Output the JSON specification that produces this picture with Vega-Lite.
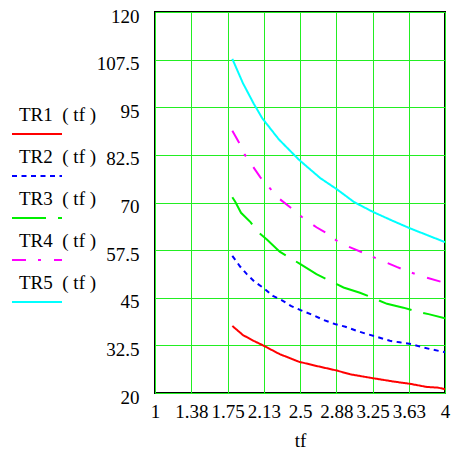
{
  "$schema": "https://vega.github.io/schema/vega-lite/v6.json",
  "width": 290,
  "height": 381,
  "autosize": {"type": "none"},
  "padding": {"left": 155, "top": 12, "right": 9, "bottom": 58},
  "view": {"stroke": "black", "strokeWidth": 2},
  "data": {
    "values": [
      {"s": "TR1", "tf": 1.8, "v": 37.6},
      {"s": "TR1", "tf": 1.91, "v": 35.2},
      {"s": "TR1", "tf": 2.02, "v": 33.7},
      {"s": "TR1", "tf": 2.11, "v": 32.6},
      {"s": "TR1", "tf": 2.29, "v": 30.2},
      {"s": "TR1", "tf": 2.49, "v": 28.2},
      {"s": "TR1", "tf": 2.67, "v": 27.1},
      {"s": "TR1", "tf": 2.88, "v": 25.9},
      {"s": "TR1", "tf": 3.02, "v": 24.9},
      {"s": "TR1", "tf": 3.25, "v": 23.9},
      {"s": "TR1", "tf": 3.47, "v": 23.0},
      {"s": "TR1", "tf": 3.64, "v": 22.4},
      {"s": "TR1", "tf": 3.81, "v": 21.6},
      {"s": "TR1", "tf": 3.93, "v": 21.4},
      {"s": "TR1", "tf": 4.0, "v": 21.0},
      {"s": "TR2", "tf": 1.8, "v": 56.0},
      {"s": "TR2", "tf": 1.88, "v": 53.2},
      {"s": "TR2", "tf": 1.95, "v": 51.2},
      {"s": "TR2", "tf": 2.03, "v": 49.2},
      {"s": "TR2", "tf": 2.12, "v": 47.6},
      {"s": "TR2", "tf": 2.22, "v": 45.5},
      {"s": "TR2", "tf": 2.31, "v": 44.4},
      {"s": "TR2", "tf": 2.41, "v": 42.8},
      {"s": "TR2", "tf": 2.5, "v": 41.8},
      {"s": "TR2", "tf": 2.64, "v": 40.4},
      {"s": "TR2", "tf": 2.74, "v": 39.2},
      {"s": "TR2", "tf": 2.86, "v": 38.1},
      {"s": "TR2", "tf": 2.97, "v": 37.4},
      {"s": "TR2", "tf": 3.09, "v": 36.3},
      {"s": "TR2", "tf": 3.19, "v": 35.5},
      {"s": "TR2", "tf": 3.29, "v": 34.8},
      {"s": "TR2", "tf": 3.43, "v": 33.7},
      {"s": "TR2", "tf": 3.53, "v": 33.3},
      {"s": "TR2", "tf": 3.66, "v": 32.8},
      {"s": "TR2", "tf": 3.78, "v": 31.9},
      {"s": "TR2", "tf": 4.0, "v": 30.7},
      {"s": "TR3", "tf": 1.8, "v": 71.4},
      {"s": "TR3", "tf": 1.83, "v": 70.2},
      {"s": "TR3", "tf": 1.89, "v": 67.3},
      {"s": "TR3", "tf": 1.99, "v": 64.8},
      {"s": "TR3", "tf": 2.05, "v": 62.6},
      {"s": "TR3", "tf": 2.16, "v": 60.2},
      {"s": "TR3", "tf": 2.29, "v": 57.1},
      {"s": "TR3", "tf": 2.4, "v": 55.4},
      {"s": "TR3", "tf": 2.5, "v": 53.9},
      {"s": "TR3", "tf": 2.67, "v": 51.2},
      {"s": "TR3", "tf": 2.79, "v": 49.7},
      {"s": "TR3", "tf": 2.95, "v": 47.7},
      {"s": "TR3", "tf": 3.12, "v": 46.3},
      {"s": "TR3", "tf": 3.25, "v": 45.0},
      {"s": "TR3", "tf": 3.4, "v": 43.4},
      {"s": "TR3", "tf": 3.57, "v": 42.4},
      {"s": "TR3", "tf": 3.69, "v": 41.5},
      {"s": "TR3", "tf": 3.83, "v": 40.7},
      {"s": "TR3", "tf": 4.0, "v": 39.6},
      {"s": "TR4", "tf": 1.8, "v": 88.8},
      {"s": "TR4", "tf": 1.87, "v": 85.7},
      {"s": "TR4", "tf": 1.93, "v": 82.5},
      {"s": "TR4", "tf": 2.09, "v": 76.6},
      {"s": "TR4", "tf": 2.19, "v": 73.7},
      {"s": "TR4", "tf": 2.29, "v": 70.9},
      {"s": "TR4", "tf": 2.41, "v": 68.5},
      {"s": "TR4", "tf": 2.52, "v": 66.2},
      {"s": "TR4", "tf": 2.67, "v": 63.5},
      {"s": "TR4", "tf": 2.78, "v": 61.9},
      {"s": "TR4", "tf": 2.91, "v": 59.4},
      {"s": "TR4", "tf": 3.07, "v": 57.7},
      {"s": "TR4", "tf": 3.21, "v": 56.2},
      {"s": "TR4", "tf": 3.35, "v": 54.7},
      {"s": "TR4", "tf": 3.5, "v": 53.1},
      {"s": "TR4", "tf": 3.63, "v": 51.8},
      {"s": "TR4", "tf": 3.78, "v": 50.5},
      {"s": "TR4", "tf": 4.0, "v": 48.9},
      {"s": "TR5", "tf": 1.8, "v": 107.7},
      {"s": "TR5", "tf": 1.91, "v": 101.3},
      {"s": "TR5", "tf": 2.02, "v": 96.0},
      {"s": "TR5", "tf": 2.11, "v": 92.1},
      {"s": "TR5", "tf": 2.28, "v": 86.6},
      {"s": "TR5", "tf": 2.49, "v": 81.2},
      {"s": "TR5", "tf": 2.71, "v": 76.4},
      {"s": "TR5", "tf": 2.88, "v": 73.5},
      {"s": "TR5", "tf": 3.06, "v": 70.1},
      {"s": "TR5", "tf": 3.25, "v": 67.6},
      {"s": "TR5", "tf": 3.44, "v": 65.4},
      {"s": "TR5", "tf": 3.64, "v": 63.2},
      {"s": "TR5", "tf": 3.81, "v": 61.5},
      {"s": "TR5", "tf": 4.0, "v": 59.6}
    ]
  },
  "mark": {"type": "line", "strokeWidth": 2, "clip": true},
  "encoding": {
    "x": {
      "field": "tf",
      "type": "quantitative",
      "scale": {"domain": [1, 4], "nice": false, "zero": false},
      "axis": {
        "title": "tf",
        "values": [1, 1.375, 1.75, 2.125, 2.5, 2.875, 3.25, 3.625, 4],
        "format": ".2~f",
        "domain": false,
        "ticks": false,
        "tickSize": 0,
        "grid": true,
        "gridColor": "#22ee22",
        "gridWidth": 1,
        "gridOpacity": 1,
        "labelFont": "Liberation Serif",
        "labelFontSize": 19,
        "labelColor": "black",
        "labelOverlap": false,
        "labelBound": false,
        "labelFlush": false,
        "labelPadding": 9,
        "titleFont": "Liberation Serif",
        "titleFontSize": 19,
        "titleFontWeight": "normal",
        "titleColor": "black",
        "titlePadding": 10
      }
    },
    "y": {
      "field": "v",
      "type": "quantitative",
      "scale": {"domain": [20, 120], "nice": false, "zero": false},
      "axis": {
        "title": null,
        "values": [20, 32.5, 45, 57.5, 70, 82.5, 95, 107.5, 120],
        "format": ".1~f",
        "domain": false,
        "ticks": false,
        "tickSize": 0,
        "grid": true,
        "gridColor": "#22ee22",
        "gridWidth": 1,
        "gridOpacity": 1,
        "labelFont": "Liberation Serif",
        "labelFontSize": 19,
        "labelColor": "black",
        "labelOverlap": false,
        "labelBound": false,
        "labelFlush": false,
        "labelPadding": 16,
        "labelOffset": 4
      }
    },
    "color": {
      "field": "s",
      "type": "nominal",
      "scale": {
        "domain": ["TR1", "TR2", "TR3", "TR4", "TR5"],
        "range": ["#ff0000", "#0000ff", "#00ee00", "#ff00ff", "#00ffff"]
      },
      "legend": {
        "title": null,
        "orient": "none",
        "legendX": -144,
        "legendY": 96,
        "symbolType": "stroke",
        "symbolSize": 2500,
        "symbolStrokeWidth": 2,
        "labelFont": "Liberation Serif",
        "labelFontSize": 19,
        "labelColor": "black",
        "labelBaseline": "bottom",
        "labelOffset": -44,
        "labelLimit": 300,
        "rowPadding": 10,
        "padding": 0,
        "labelExpr": "datum.label + '\u00a0\u00a0( tf )'",
        "encoding": {"labels": {"dy": {"value": -9}}}
      }
    },
    "strokeDash": {
      "field": "s",
      "type": "nominal",
      "scale": {
        "domain": ["TR1", "TR2", "TR3", "TR4", "TR5"],
        "range": [[1, 0], [5, 4.5], [34, 12], [14, 12, 3, 13], [1, 0]]
      },
      "legend": {
        "title": null,
        "orient": "none",
        "legendX": -144,
        "legendY": 96,
        "symbolType": "stroke",
        "symbolSize": 2500,
        "symbolStrokeWidth": 2,
        "labelFont": "Liberation Serif",
        "labelFontSize": 19,
        "labelColor": "black",
        "labelBaseline": "bottom",
        "labelOffset": -44,
        "labelLimit": 300,
        "rowPadding": 10,
        "padding": 0,
        "labelExpr": "datum.label + '\u00a0\u00a0( tf )'",
        "encoding": {"labels": {"dy": {"value": -9}}}
      }
    }
  }
}
